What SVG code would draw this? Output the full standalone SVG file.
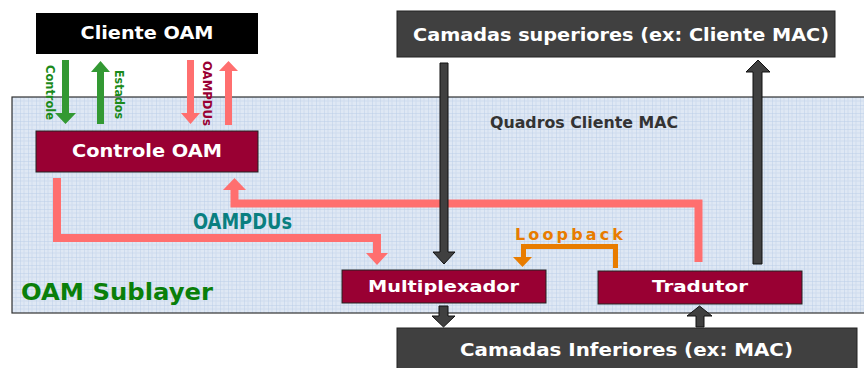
<svg xmlns="http://www.w3.org/2000/svg" width="864" height="368" viewBox="0 0 864 368">
<defs>
<pattern id="grid" width="8" height="8" patternUnits="userSpaceOnUse" x="12" y="97">
<rect width="8" height="8" fill="#dfe8f4"/>
<path d="M4 0V8M0 4H8" stroke="#d0ddef" stroke-width="1"/>
<path d="M0 0V8M0 0H8" stroke="#bccfe8" stroke-width="1"/>
</pattern>
<style>
.red{fill:#990033;stroke:#222;stroke-width:1}
.dark{fill:#404040;stroke:#222;stroke-width:1}
.lbl{font-family:"DejaVu Sans",Verdana,sans-serif;font-weight:bold;fill:#fff;text-anchor:middle}
.pink{fill:none;stroke:#ff6f6f;stroke-width:8}
.pinkf{fill:#ff6f6f}
.green{fill:#339933}
.darr{fill:#404040;stroke:#111;stroke-width:1}
.vt{font-family:"DejaVu Sans",Verdana,sans-serif;font-weight:bold;font-size:12.5px}
</style>
</defs>

<g id="sublayer">
<rect x="12" y="97" width="858" height="216" fill="url(#grid)" stroke="#333" stroke-width="1.2"/>
<text x="21" y="300" font-family="DejaVu Sans,Verdana,sans-serif" font-weight="bold" font-size="23" fill="#0a7f0a" textLength="192" lengthAdjust="spacingAndGlyphs">OAM Sublayer</text>
<text x="490" y="128" font-family="DejaVu Sans,Verdana,sans-serif" font-weight="bold" font-size="15" fill="#333" textLength="188" lengthAdjust="spacingAndGlyphs">Quadros Cliente MAC</text>
</g>

<g id="cliente-oam">
<rect x="36" y="13" width="222" height="41" fill="#000"/>
<text class="lbl" x="147" y="39" font-size="17" textLength="133" lengthAdjust="spacingAndGlyphs">Cliente OAM</text>
</g>

<g id="controle-oam">
<rect class="red" x="36" y="131" width="222" height="41"/>
<text class="lbl" x="147" y="157" font-size="17" textLength="150" lengthAdjust="spacingAndGlyphs">Controle OAM</text>
</g>

<g id="camadas-superiores">
<rect class="dark" x="397" y="11" width="438" height="46"/>
<text class="lbl" x="621" y="41" font-size="17" textLength="416" lengthAdjust="spacingAndGlyphs">Camadas superiores (ex: Cliente MAC)</text>
</g>

<g id="multiplexador">
<rect class="red" x="342" y="270" width="204" height="33"/>
<text class="lbl" x="443.5" y="292" font-size="16" textLength="151" lengthAdjust="spacingAndGlyphs">Multiplexador</text>
</g>

<g id="tradutor">
<rect class="red" x="598" y="271" width="204" height="33"/>
<text class="lbl" x="700" y="292" font-size="16" textLength="96" lengthAdjust="spacingAndGlyphs">Tradutor</text>
</g>

<g id="camadas-inferiores">
<rect class="dark" x="397" y="328" width="460" height="46"/>
<text class="lbl" x="626.5" y="356" font-size="17" textLength="333" lengthAdjust="spacingAndGlyphs">Camadas Inferiores (ex: MAC)</text>
</g>

<g id="connectors">
<polygon class="green" points="62,60 69,60 69,113 76,113 65.5,124 55,113 62,113"/>
<polygon class="green" points="97,124 104,124 104,72 110,72 100.5,61 91,72 97,72"/>
<text class="vt" fill="#1a8a1a" transform="translate(46,65) rotate(90)" textLength="55" lengthAdjust="spacingAndGlyphs">Controle</text>
<text class="vt" fill="#1a8a1a" transform="translate(115,70) rotate(90)" textLength="49" lengthAdjust="spacingAndGlyphs">Estados</text>
<polygon class="pinkf" points="187,60 194,60 194,113 200,113 190.5,124 181,113 187,113"/>
<polygon class="pinkf" points="225,125 232,125 232,71 238,71 228.5,61 219,71 225,71"/>
<text class="vt" fill="#990033" transform="translate(203,61) rotate(90)" textLength="65" lengthAdjust="spacingAndGlyphs">OAMPDUs</text>
<path class="pink" d="M57 178V238H377V254"/>
<polygon class="pinkf" points="366,253 388,253 377,265"/>
<path class="pink" d="M698.5 262V203.5H234.5V189"/>
<polygon class="pinkf" points="223,190 246,190 234.5,178"/>
<text x="193" y="229" font-family="DejaVu Sans Condensed,DejaVu Sans,sans-serif" font-weight="bold" font-size="21" fill="#0a7f80" textLength="99" lengthAdjust="spacingAndGlyphs">OAMPDUs</text>
<polygon class="darr" points="440,63 448,63 448,252 455,252 444,264 433,252 440,252"/>
<polygon class="darr" points="753,264 753,72 746,72 758,60 770,72 762,72 762,264"/>
<polygon class="darr" points="439,306 448,306 448,316 455,316 443.5,327 432,316 439,316"/>
<polygon class="darr" points="696,327 696,316 687,316 699.5,306 712,316 704,316 704,327"/>
<path d="M615.5 268V246.5H523.5V258" fill="none" stroke="#e87c00" stroke-width="5"/>
<polygon points="513,257 532,257 522.5,267" fill="#e87c00"/>
<text x="515" y="240" font-family="DejaVu Sans,Verdana,sans-serif" font-weight="bold" font-size="16" fill="#e87c00" textLength="108" lengthAdjust="spacing">Loopback</text>
</g>
</svg>
